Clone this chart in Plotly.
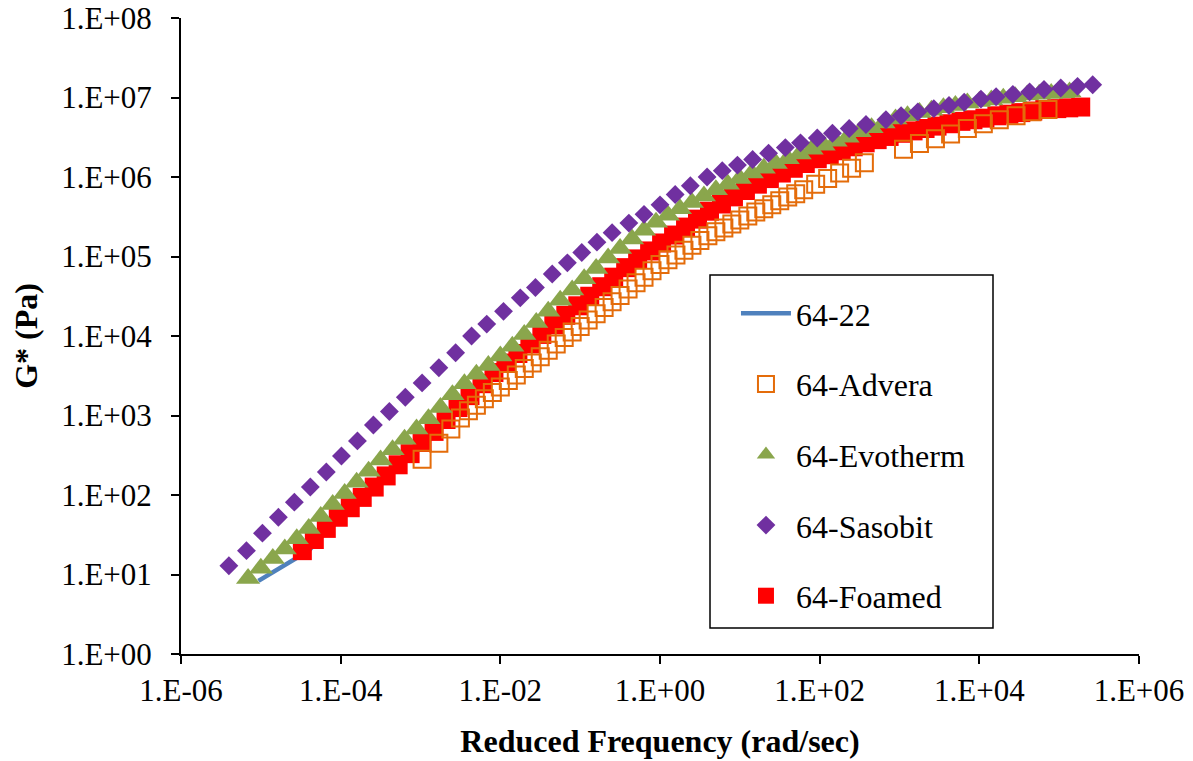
import numpy as np
import plotly.graph_objects as go

# Values: log10 of reduced frequency (rad/sec) and log10 of G* (Pa)
b6422_log_freq = [-5.03, -4.80, -4.60, -4.40, -4.18, -3.88, -3.58, -3.28, -2.98, -2.68, -2.38, -2.08,
                  -1.78, -1.48, -1.18, -0.88, -0.58, -0.28, 0.02, 0.32, 0.62, 0.92, 1.22, 1.52,
                  1.82, 2.12, 2.42, 2.72, 3.02, 3.32, 3.62, 3.92, 4.22, 4.52, 4.82, 5.12]
b6422_log_g = [0.92, 1.06, 1.18, 1.30, 1.54, 1.80, 2.06, 2.34, 2.62, 2.91, 3.21, 3.50,
               3.74, 3.98, 4.22, 4.46, 4.70, 4.93, 5.13, 5.33, 5.53, 5.71, 5.87, 6.01,
               6.13, 6.24, 6.34, 6.43, 6.51, 6.57, 6.63, 6.68, 6.73, 6.77, 6.81, 6.83]

advera_log_freq = [-2.98, -2.77, -2.62, -2.50, -2.40, -2.30, -2.20, -2.10, -2.00, -1.90, -1.80, -1.70,
                   -1.60, -1.50, -1.40, -1.30, -1.20, -1.10, -1.00, -0.90, -0.80, -0.70, -0.60, -0.50,
                   -0.40, -0.30, -0.20, -0.10, 0.00, 0.10, 0.20, 0.30, 0.40, 0.50, 0.60, 0.70,
                   0.80, 0.90, 1.00, 1.10, 1.20, 1.30, 1.40, 1.50, 1.60, 1.70, 1.80, 1.95,
                   2.10, 2.25, 2.40, 2.56, 3.05, 3.25, 3.45, 3.64, 3.85, 4.05, 4.25, 4.46,
                   4.66, 4.86]
advera_log_g = [2.45, 2.65, 2.83, 2.97, 3.06, 3.13, 3.21, 3.29, 3.36, 3.44, 3.51, 3.59,
                3.66, 3.74, 3.82, 3.90, 3.98, 4.05, 4.12, 4.20, 4.28, 4.36, 4.43, 4.51,
                4.59, 4.67, 4.74, 4.82, 4.90, 4.96, 5.02, 5.08, 5.14, 5.20, 5.26, 5.31,
                5.36, 5.41, 5.46, 5.51, 5.56, 5.60, 5.65, 5.70, 5.75, 5.79, 5.84, 5.91,
                5.98, 6.05, 6.11, 6.18, 6.35, 6.42, 6.48, 6.54, 6.61, 6.67, 6.72, 6.77,
                6.82, 6.85]

evotherm_log_freq = [-5.16, -5.00, -4.85, -4.70, -4.55, -4.40, -4.25, -4.10, -3.95, -3.80, -3.65, -3.50,
                     -3.35, -3.20, -3.05, -2.90, -2.75, -2.60, -2.45, -2.30, -2.15, -2.00, -1.85, -1.70,
                     -1.55, -1.40, -1.25, -1.10, -0.95, -0.80, -0.65, -0.50, -0.35, -0.20, -0.05, 0.10,
                     0.25, 0.40, 0.55, 0.70, 0.85, 1.00, 1.15, 1.30, 1.45, 1.60, 1.75, 1.90,
                     2.05, 2.20, 2.35, 2.50, 2.65, 2.80, 2.95, 3.10, 3.25, 3.40, 3.55, 3.70,
                     3.85, 4.00, 4.15, 4.30, 4.45, 4.60, 4.75, 4.90, 5.05, 5.13]
evotherm_log_g = [0.95, 1.08, 1.20, 1.32, 1.45, 1.58, 1.73, 1.88, 2.02, 2.16, 2.30, 2.44,
                  2.57, 2.70, 2.83, 2.96, 3.10, 3.26, 3.40, 3.52, 3.63, 3.75, 3.87, 4.02,
                  4.17, 4.31, 4.45, 4.58, 4.72, 4.85, 4.98, 5.10, 5.22, 5.33, 5.43, 5.52,
                  5.60, 5.68, 5.76, 5.84, 5.91, 5.98, 6.05, 6.11, 6.17, 6.23, 6.29, 6.35,
                  6.40, 6.45, 6.50, 6.57, 6.62, 6.68, 6.73, 6.77, 6.81, 6.84, 6.87, 6.90,
                  6.93, 6.95, 6.97, 6.99, 7.01, 7.03, 7.04, 7.05, 7.06, 7.07]

sasobit_log_freq = [-5.40, -5.18, -4.98, -4.78, -4.58, -4.38, -4.18, -3.99, -3.79, -3.59, -3.39, -3.19,
                    -2.98, -2.77, -2.56, -2.36, -2.17, -1.96, -1.75, -1.56, -1.35, -1.16, -0.98, -0.79,
                    -0.60, -0.39, -0.20, 0.00, 0.19, 0.38, 0.59, 0.78, 0.97, 1.16, 1.36, 1.57,
                    1.76, 1.97, 2.16, 2.37, 2.58, 2.83, 3.02, 3.23, 3.43, 3.62, 3.81, 4.02,
                    4.21, 4.42, 4.63, 4.81, 5.02, 5.23, 5.42]
sasobit_log_g = [1.11, 1.30, 1.52, 1.72, 1.91, 2.10, 2.29, 2.49, 2.68, 2.88, 3.05, 3.23,
                 3.41, 3.60, 3.79, 4.00, 4.15, 4.31, 4.48, 4.61, 4.78, 4.92, 5.05, 5.18,
                 5.30, 5.42, 5.53, 5.65, 5.78, 5.89, 6.00, 6.08, 6.15, 6.22, 6.30, 6.37,
                 6.43, 6.49, 6.55, 6.61, 6.66, 6.72, 6.77, 6.82, 6.86, 6.90, 6.94, 6.98,
                 7.01, 7.04, 7.07, 7.10, 7.12, 7.14, 7.16]

foamed_log_freq = [-4.48, -4.33, -4.18, -4.03, -3.88, -3.73, -3.58, -3.43, -3.28, -3.13, -2.98, -2.83,
                   -2.68, -2.53, -2.38, -2.23, -2.08, -1.93, -1.78, -1.63, -1.48, -1.33, -1.18, -1.03,
                   -0.88, -0.73, -0.58, -0.43, -0.28, -0.13, 0.02, 0.17, 0.32, 0.47, 0.62, 0.77,
                   0.92, 1.07, 1.22, 1.37, 1.52, 1.67, 1.82, 1.97, 2.12, 2.27, 2.42, 2.57,
                   2.72, 2.87, 3.02, 3.17, 3.32, 3.47, 3.62, 3.77, 3.92, 4.07, 4.22, 4.37,
                   4.52, 4.67, 4.82, 4.97, 5.12, 5.27]
foamed_log_g = [1.30, 1.44, 1.58, 1.72, 1.84, 1.97, 2.10, 2.24, 2.38, 2.52, 2.66, 2.80,
                2.95, 3.10, 3.25, 3.40, 3.54, 3.66, 3.78, 3.90, 4.02, 4.14, 4.26, 4.38,
                4.50, 4.62, 4.74, 4.86, 4.97, 5.07, 5.17, 5.27, 5.37, 5.47, 5.57, 5.66,
                5.75, 5.83, 5.91, 5.98, 6.05, 6.11, 6.17, 6.23, 6.28, 6.33, 6.38, 6.43,
                6.47, 6.51, 6.55, 6.58, 6.61, 6.64, 6.67, 6.70, 6.72, 6.74, 6.77, 6.79,
                6.81, 6.83, 6.85, 6.86, 6.87, 6.88]

x_tick_values = [1e-6, 1e-4, 1e-2, 1e0, 1e2, 1e4, 1e6]
x_tick_labels = ["1.E-06", "1.E-04", "1.E-02", "1.E+00", "1.E+02", "1.E+04", "1.E+06"]
y_tick_values = [1e0, 1e1, 1e2, 1e3, 1e4, 1e5, 1e6, 1e7, 1e8]
y_tick_labels = ["1.E+00", "1.E+01", "1.E+02", "1.E+03", "1.E+04", "1.E+05", "1.E+06", "1.E+07", "1.E+08"]


def pw(a):
    return np.power(10.0, np.array(a))


FONT = "Liberation Serif"
fig = go.Figure()

fig.add_trace(go.Scatter(x=pw(b6422_log_freq), y=pw(b6422_log_g), name="64-22", mode="lines",
                         line=dict(color="#4F81BD", width=4.5), legendrank=1, legendgroup="a"))
fig.add_trace(go.Scatter(x=pw(foamed_log_freq), y=pw(foamed_log_g), name="64-Foamed", mode="markers",
                         marker=dict(symbol="square", size=19, color="#FF0000"),
                         legendrank=5, legendgroup="e"))
fig.add_trace(go.Scatter(x=pw(advera_log_freq), y=pw(advera_log_g), name="64-Advera", mode="markers",
                         marker=dict(symbol="square-open", size=17, color="#E46C0A",
                                     line=dict(width=2, color="#E46C0A")),
                         legendrank=2, legendgroup="b"))
fig.add_trace(go.Scatter(x=pw(evotherm_log_freq), y=pw(evotherm_log_g), name="64-Evotherm", mode="markers",
                         marker=dict(symbol="triangle-up", size=21, color="#8AA64C"),
                         legendrank=3, legendgroup="c"))
fig.add_trace(go.Scatter(x=pw(sasobit_log_freq), y=pw(sasobit_log_g), name="64-Sasobit", mode="markers",
                         marker=dict(symbol="diamond", size=14.5, color="#7030A0"),
                         legendrank=4, legendgroup="d"))

axis_common = dict(type="log", showgrid=False, zeroline=False, showline=True, linecolor="black",
                   linewidth=2, ticks="outside", ticklen=8, tickwidth=2, tickcolor="black",
                   tickfont=dict(family=FONT, size=31, color="black"), automargin=False, mirror=False)

fig.update_xaxes(**axis_common, range=[-6, 6], tickvals=x_tick_values, ticktext=x_tick_labels,
                 title=dict(text="Reduced Frequency (rad/sec)", standoff=22,
                            font=dict(family=FONT, size=32, color="black", weight="bold")))
fig.update_yaxes(**axis_common, range=[0, 8], tickvals=y_tick_values, ticktext=y_tick_labels,
                 ticklabelstandoff=13,
                 title=dict(text="G* (Pa)", standoff=14,
                            font=dict(family=FONT, size=32, color="black", weight="bold")))

fig.add_shape(type="rect", xref="paper", yref="paper", x0=0.5522, x1=0.8476, y0=0.0409, y1=0.596,
              line=dict(color="black", width=1.5), fillcolor="rgba(0,0,0,0)", layer="above")

fig.update_layout(
    width=1193, height=761,
    margin=dict(l=181, r=54, t=18, b=107),
    plot_bgcolor="white", paper_bgcolor="white",
    font=dict(family=FONT, color="black"),
    showlegend=True,
    legend=dict(x=0.5793, y=0.5786, xanchor="left", yanchor="top", bgcolor="rgba(0,0,0,0)",
                borderwidth=0, font=dict(family=FONT, size=32, color="black"),
                itemwidth=50, tracegroupgap=26),
)

fig.write_html("out.html", config={"displayModeBar": False},
               post_script="document.body.style.margin='0';document.body.style.overflow='hidden';")
